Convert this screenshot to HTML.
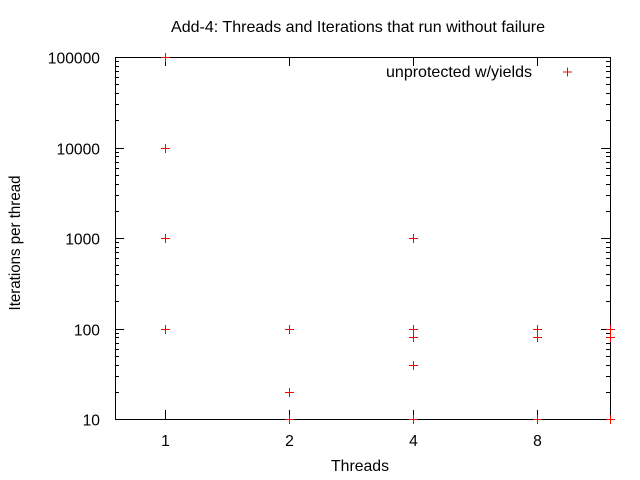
<!DOCTYPE html>
<html><head><meta charset="utf-8"><style>
body{margin:0;background:#fff;}
svg{display:block;font-family:"Liberation Sans",sans-serif;}
</style></head><body>
<svg id="chart" width="640" height="480">
<text x="358" y="32" font-size="16" text-anchor="middle" textLength="374" lengthAdjust="spacingAndGlyphs">Add-4: Threads and Iterations that run without failure</text>
<text x="360" y="471" font-size="16" text-anchor="middle" textLength="58" lengthAdjust="spacingAndGlyphs">Threads</text>
<text transform="translate(20,243) rotate(-90)" font-size="16" text-anchor="middle" textLength="135" lengthAdjust="spacingAndGlyphs">Iterations per thread</text>
<g id="axes"></g>
<g id="points"></g>
<text x="532" y="77" font-size="16" text-anchor="end" textLength="146" lengthAdjust="spacingAndGlyphs">unprotected w/yields</text>
<path d="M563,72h9M567.5,67.5v9" stroke="#f00" stroke-width="1"/>
</svg>
<script>
const xTicks=[1,2,4,8];
const yTicks=[10,100,1000,10000,100000];
const threads=[1,1,1,1,2,2,2,4,4,4,4,4,8,8,8,12,12,12];
const iterations=[100000,10000,1000,100,100,20,10,1000,100,80,40,10,100,80,10,100,80,10];
const L=115,R=610,T=57,B=419;
const xMin=Math.log2(0.757),xMax=Math.log2(12);
const xs=v=>L+(Math.log2(v)-xMin)/(xMax-xMin)*(R-L);
const ys=v=>B-(Math.log10(v)-1)/4*(B-T);
const NS="http://www.w3.org/2000/svg";
const ax=document.getElementById('axes');
function ln(x1,y1,x2,y2,name){const l=document.createElementNS(NS,'line');
l.setAttribute('x1',x1);l.setAttribute('y1',y1);l.setAttribute('x2',x2);l.setAttribute('y2',y2);
l.setAttribute('stroke','#000');l.setAttribute('stroke-width','1');


ax.appendChild(l);}
function tx(x,y,s,anchor,name){const t=document.createElementNS(NS,'text');
t.setAttribute('x',x);t.setAttribute('y',y);t.setAttribute('font-size','16');t.setAttribute('text-anchor',anchor);t.textContent=s;
t.setAttribute('textLength',String(s.length*8.7));t.setAttribute('lengthAdjust','spacingAndGlyphs');


ax.appendChild(t);}
const fr=document.createElementNS(NS,'rect');
fr.setAttribute('x',L+0.5);fr.setAttribute('y',T+0.5);fr.setAttribute('width',R-L);fr.setAttribute('height',B-T);
fr.setAttribute('fill','none');fr.setAttribute('stroke','#000');


ax.appendChild(fr);
yTicks.forEach((v,i)=>{const y=Math.round(ys(v))+0.5;
ln(L,y,L+9,y,'y-tick');ln(R-9,y,R,y,'y-tick');
tx(L-15,y+6,String(v),'end','y-tick-label');
if(i<yTicks.length-1){for(let m=2;m<10;m++){const ym=Math.round(ys(v*m))+0.5;ln(L,ym,L+4,ym,'y-minor-tick');ln(R-4,ym,R,ym,'y-minor-tick');}}
});
xTicks.forEach(v=>{const x=Math.round(xs(v))+0.5;
ln(x,B,x,B-9,'x-tick');ln(x,T,x,T+9,'x-tick');
tx(x,446,String(v),'middle','x-tick-label');});
const pg=document.getElementById('points');
threads.forEach((t,i)=>{const x=Math.round(xs(t))+0.5,y=Math.round(ys(iterations[i]))+0.5;
const p=document.createElementNS(NS,'path');
p.setAttribute('d',`M${x-4.5},${y}h9M${x},${y-4.5}v9`);
p.setAttribute('stroke','#f00');p.setAttribute('stroke-width','1');


pg.appendChild(p);});
</script>
</body></html>
